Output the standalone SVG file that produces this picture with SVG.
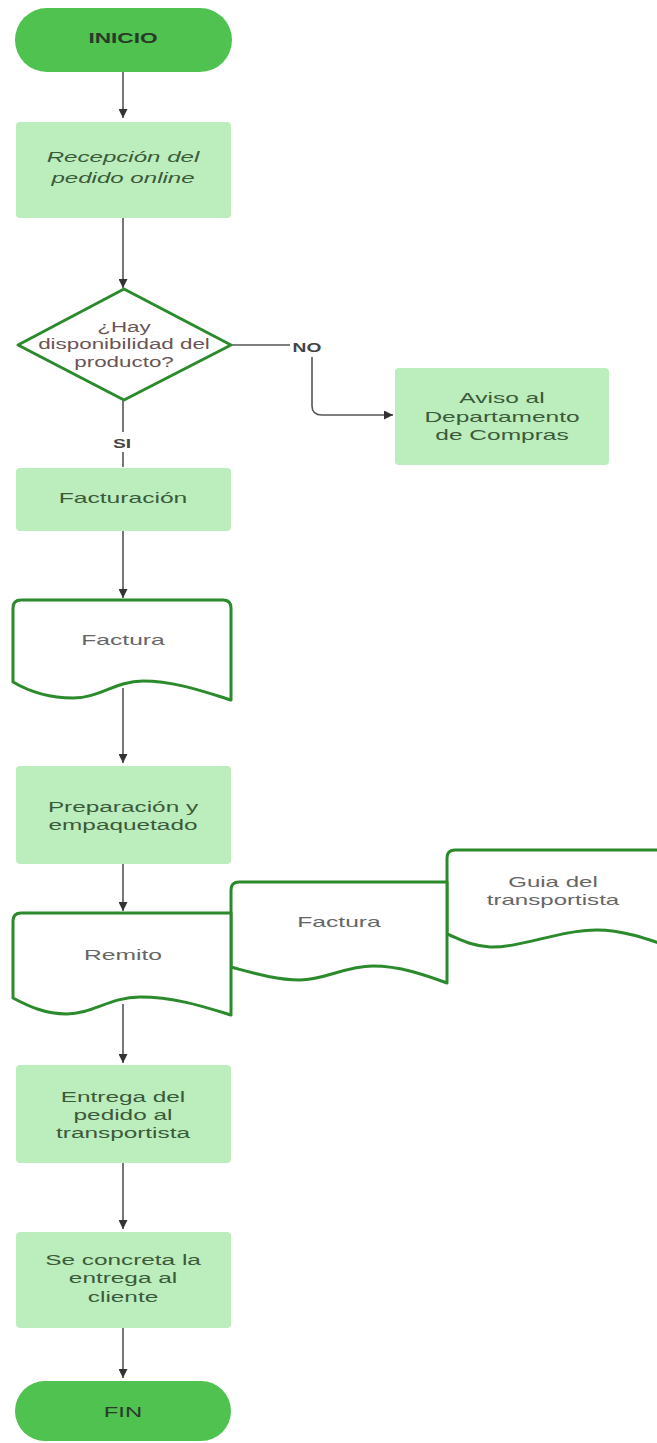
<svg xmlns="http://www.w3.org/2000/svg" width="657" height="1443" viewBox="0 0 657 1443">
<style>
.term{fill:#4fc24f;stroke:none}
.proc{fill:#bcedbc;stroke:none}
.doc{fill:#ffffff;stroke:#2b8a2b;stroke-width:3;stroke-linejoin:round}
.dec{fill:#ffffff;stroke:#2b8a2b;stroke-width:3;stroke-linejoin:round}
.conn{fill:none;stroke:#555555;stroke-width:1.6}
text{font-family:"Liberation Sans",Arial,sans-serif;font-size:14px;text-anchor:middle}
.tt{fill:#2a3a2a;font-weight:bold}
.ft{fill:#2a3a2a}
.pt{fill:#3a5a3a}
.dt{fill:#666666}
.qt{fill:#6a5555}
.lb{fill:#444444;font-weight:bold;font-size:12px}
</style>
<defs>
<marker id="arr" viewBox="0 0 10 10" refX="10" refY="5" markerWidth="9" markerHeight="9" markerUnits="userSpaceOnUse" orient="auto">
<path d="M0,0 L10,5 L0,10 z" fill="#333333"/>
</marker>
</defs>
<g id="connectors">
<path class="conn" d="M123,72 V118" marker-end="url(#arr)"/>
<path class="conn" d="M123,218 V288" marker-end="url(#arr)"/>
<path class="conn" d="M231,345 H290"/>
<path class="conn" d="M312,357 V406 Q312,415 322,415 H393" marker-end="url(#arr)"/>
<path class="conn" d="M123,400 V432"/>
<path class="conn" d="M123,452 V467"/>
<path class="conn" d="M123,531 V598" marker-end="url(#arr)"/>
<path class="conn" d="M123,688 V763" marker-end="url(#arr)"/>
<path class="conn" d="M123,864 V911" marker-end="url(#arr)"/>
<path class="conn" d="M123,1004 V1063" marker-end="url(#arr)"/>
<path class="conn" d="M123,1163 V1229" marker-end="url(#arr)"/>
<path class="conn" d="M123,1328 V1378" marker-end="url(#arr)"/>
<g transform="translate(307,352) scale(1.6,1)"><text class="lb" x="0" y="0">NO</text></g>
<g transform="translate(122,448) scale(1.6,1)"><text class="lb" x="0" y="0">SI</text></g>
</g>
<g id="inicio">
<rect class="term" x="15" y="8" width="217" height="64" rx="32" ry="32"/>
<g transform="translate(123,0) scale(1.62,1)"><text class="tt" x="0" y="43">INICIO</text></g>
</g>
<g id="recepcion">
<rect class="proc" x="16" y="122" width="215" height="96" rx="4"/>
<g transform="translate(123,0) scale(1.72,1)"><text class="pt" x="0" y="162" font-style="italic">Recepción del</text><text class="pt" x="0" y="183" font-style="italic">pedido online</text></g>
</g>
<g id="decision">
<path class="dec" d="M124,289 L231,345 L124,400 L18,345 Z"/>
<g transform="translate(124,0) scale(1.6,1)"><text class="qt" x="0" y="332">¿Hay</text><text class="qt" x="0" y="349">disponibilidad del</text><text class="qt" x="0" y="367">producto?</text></g>
</g>
<g id="aviso">
<rect class="proc" x="395" y="368" width="214" height="97" rx="4"/>
<g transform="translate(502,0) scale(1.75,1)"><text class="pt" x="0" y="403">Aviso al</text><text class="pt" x="0" y="422">Departamento</text><text class="pt" x="0" y="440">de Compras</text></g>
</g>
<g id="facturacion">
<rect class="proc" x="16" y="468" width="215" height="63" rx="4"/>
<g transform="translate(123,0) scale(1.76,1)"><text class="pt" x="0" y="503">Facturación</text></g>
</g>
<g id="factura1">
<path class="doc" d="M13,682 V608 Q13,600 21,600 H223 Q231,600 231,608 V700 C205,692 175,681 143,681 C115,681 100,698 73,698 C50,698 30,692 13,682 Z"/>
<g transform="translate(123,0) scale(1.76,1)"><text class="dt" x="0" y="645">Factura</text></g>
</g>
<g id="preparacion">
<rect class="proc" x="16" y="766" width="215" height="98" rx="4"/>
<g transform="translate(123,0) scale(1.74,1)"><text class="pt" x="0" y="812">Preparación y</text><text class="pt" x="0" y="830">empaquetado</text></g>
</g>
<g id="guia">
<path class="doc" d="M447,934 V858 Q447,850 455,850 H680 V950 C665,946 630,930 597,930 C560,930 520,948 490,947 C470,946 458,938 447,934 Z"/>
<g transform="translate(553,0) scale(1.72,1)"><text class="dt" x="0" y="887">Guia del</text><text class="dt" x="0" y="905">transportista</text></g>
</g>
<g id="factura2">
<path class="doc" d="M231,967 V890 Q231,882 239,882 H447 V983 C425,975 400,966 373,966 C345,966 325,980 300,980 C275,980 250,972 231,967 Z"/>
<g transform="translate(339,0) scale(1.76,1)"><text class="dt" x="0" y="927">Factura</text></g>
</g>
<g id="remito">
<path class="doc" d="M13,998 V921 Q13,913 21,913 H231 V1015 C205,1007 175,997 140,997 C110,997 92,1014 67,1014 C45,1014 28,1006 13,998 Z"/>
<g transform="translate(123,0) scale(1.76,1)"><text class="dt" x="0" y="960">Remito</text></g>
</g>
<g id="entrega">
<rect class="proc" x="16" y="1065" width="215" height="98" rx="4"/>
<g transform="translate(123,0) scale(1.74,1)"><text class="pt" x="0" y="1102">Entrega del</text><text class="pt" x="0" y="1120">pedido al</text><text class="pt" x="0" y="1138">transportista</text></g>
</g>
<g id="concreta">
<rect class="proc" x="16" y="1232" width="215" height="96" rx="4"/>
<g transform="translate(123,0) scale(1.74,1)"><text class="pt" x="0" y="1265">Se concreta la</text><text class="pt" x="0" y="1283">entrega al</text><text class="pt" x="0" y="1302">cliente</text></g>
</g>
<g id="fin">
<rect class="term" x="15" y="1381" width="216" height="60" rx="30" ry="30"/>
<g transform="translate(123,0) scale(1.7,1)"><text class="ft" x="0" y="1417">FIN</text></g>
</g>
</svg>
